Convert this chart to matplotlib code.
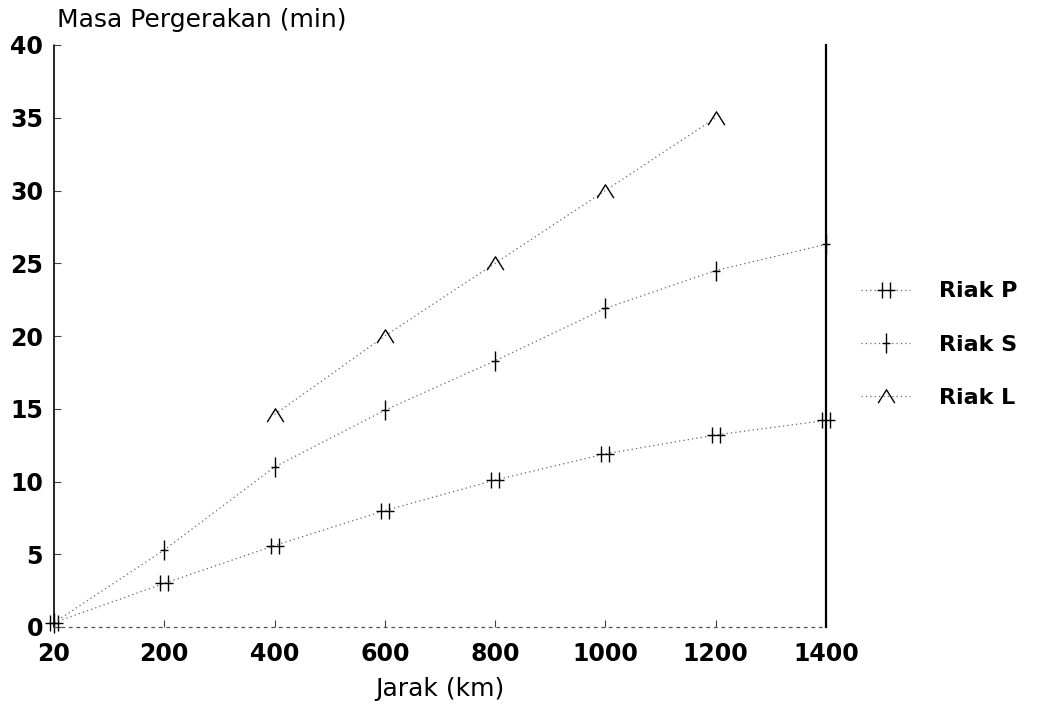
import numpy as np
import matplotlib
matplotlib.use("Agg")
import matplotlib.pyplot as plt
from matplotlib.path import Path

categories = ["20", "200", "400", "600", "800", "1000", "1200", "1400"]
riak_p = [0.3, 3.0, 5.6, 8.0, 10.1, 11.9, 13.2, 14.2]
riak_s = [0.3, 5.3, 11.0, 14.9, 18.3, 21.9, 24.5, 26.3]
riak_l = [np.nan, np.nan, 14.6, 20.0, 25.0, 30.0, 35.0, np.nan]
series_names = ["Riak P", "Riak S", "Riak L"]
y_ticks = [0, 5, 10, 15, 20, 25, 30, 35, 40]

M, L = Path.MOVETO, Path.LINETO
mk_p = Path([(-0.5, -1), (-0.5, 1), (0.5, -1), (0.5, 1), (-1.1, 0), (1.1, 0)],
            [M, L, M, L, M, L])
mk_s = Path([(0, -1), (0, 1), (-0.45, 0), (0.45, 0)], [M, L, M, L])
mk_l = Path([(-1, -0.8), (0, 0.8), (1, -0.8)], [M, L, L])

plt.rcParams['font.family'] = ['DejaVu Sans']

fig = plt.figure(figsize=(10.59, 7.10), dpi=100)
ax = fig.add_axes([54/1059, 83/710, (826-54)/1059, (627-45)/710])

x = np.arange(len(categories))
styles = [(riak_p, mk_p, 13), (riak_s, mk_s, 14), (riak_l, mk_l, 12)]
handles = []
for (vals, mk, ms), name in zip(styles, series_names):
    h, = ax.plot(x, vals, linestyle=(0, (1, 2.5)), color='#666666', lw=0.9,
                 marker=mk, markersize=ms, markeredgecolor='black',
                 markerfacecolor='none', markeredgewidth=1.0, label=name,
                 clip_on=False)
    handles.append(h)

ax.set_xlim(0, len(categories) - 1)
ax.set_ylim(0, 40)
ax.set_xticks(x)
ax.set_xticklabels(categories, fontsize=17, fontweight='bold')
ax.set_yticks(y_ticks)
ax.set_yticklabels([str(t) for t in y_ticks], fontsize=17, fontweight='bold')
ax.tick_params(axis='both', direction='in', length=5, width=0.8, color='#444444')
ax.tick_params(axis='y', pad=8)
ax.tick_params(axis='x', pad=11)

ax.spines['top'].set_visible(False)
ax.spines['left'].set_linestyle((0, (4, 1)))
ax.spines['left'].set_linewidth(1.2)
ax.spines['bottom'].set_linestyle((0, (2, 4)))
ax.spines['bottom'].set_color('#555555')
ax.spines['bottom'].set_linewidth(0.9)
ax.spines['right'].set_linestyle((0, (5, 1)))
ax.spines['right'].set_linewidth(1.6)

fig.text(57/1059, 1 - 20/710, "Masa Pergerakan (min)", fontsize=18,
         ha='left', va='center')
ax.set_xlabel("Jarak (km)", fontsize=18, labelpad=8)

leg = ax.legend(handles=handles, loc='center left', bbox_to_anchor=(1.02, 0.485),
                frameon=False, prop={'size': 16, 'weight': 'bold'},
                labelspacing=1.5, handlelength=2.2, handletextpad=1.3)

fig.savefig("out.png", dpi=100)
